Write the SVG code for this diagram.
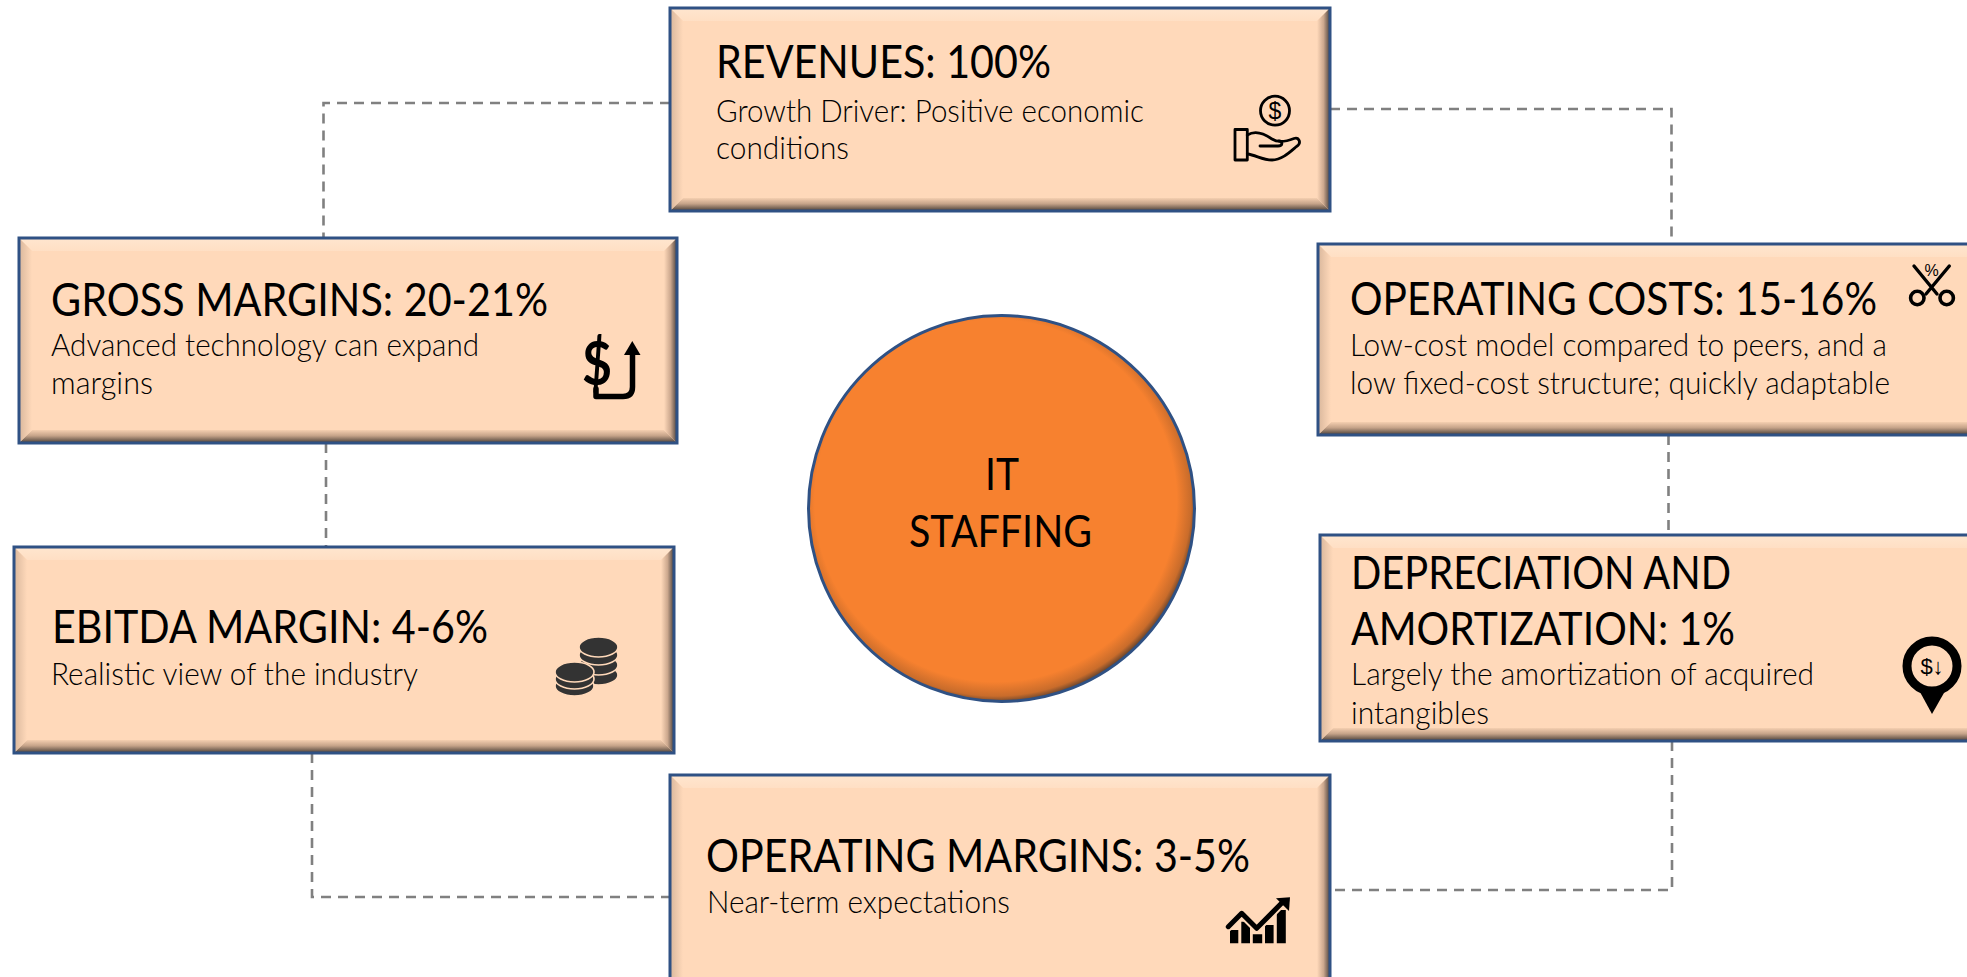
<svg xmlns="http://www.w3.org/2000/svg" width="1967" height="977" viewBox="0 0 1967 977">
<style>
text{font-family:"Lato","Liberation Sans",sans-serif;fill:#000}
.h{font-size:46px;font-weight:400}
.s{font-size:30.500px;font-weight:300}
.c{font-size:45px;font-weight:400}
.conn{fill:none;stroke:#808080;stroke-width:2.600;stroke-dasharray:10 7}
.face{fill:#ffd9ba}
.border{fill:none;stroke:#2f5184;stroke-width:3}
.ic{fill:none;stroke:#000;stroke-linecap:round;stroke-linejoin:round}
.g{font-family:"Liberation Sans",sans-serif;font-weight:400;text-anchor:middle}
</style>
<defs>
<linearGradient id="bt" x1="0" y1="0" x2="0" y2="1"><stop offset="0" stop-color="#ffe6cf"/><stop offset="1" stop-color="#ffdfc4"/></linearGradient>
<linearGradient id="bb" x1="0" y1="0" x2="0" y2="1"><stop offset="0" stop-color="#f5cfb0"/><stop offset=".45" stop-color="#c4a288"/><stop offset="1" stop-color="#473c35"/></linearGradient>
<linearGradient id="bl" x1="0" y1="0" x2="1" y2="0"><stop offset="0" stop-color="#d9b79c"/><stop offset="1" stop-color="#ffd9ba"/></linearGradient>
<linearGradient id="br" x1="0" y1="0" x2="1" y2="0"><stop offset="0" stop-color="#ffd9ba"/><stop offset=".5" stop-color="#cca88e"/><stop offset="1" stop-color="#4a403b"/></linearGradient>
<radialGradient id="ball" cx=".485" cy=".48" r=".527"><stop offset=".89" stop-color="#f7812f"/><stop offset=".96" stop-color="#c96c2b"/><stop offset="1" stop-color="#4f3a2d"/></radialGradient>
</defs>
<rect width="1967" height="977" fill="#fff"/>
<g id="connectors">
<path class="conn" d="M670 103H323.500V238"/>
<path class="conn" d="M326 443V547"/>
<path class="conn" d="M312 753V897H670"/>
<path class="conn" d="M1672 741V890H1330"/>
<path class="conn" d="M1668.500 435V536"/>
<path class="conn" d="M1330 109H1671.500V243"/>
</g>
<g id="revenues">
<rect class="face" x="670" y="8" width="660" height="203"/>
<path fill="url(#bt)" d="M670 8H1330L1317 21H683Z"/><path fill="url(#bb)" d="M670 211H1330L1317 198H683Z"/><path fill="url(#bl)" d="M670 8V211L683 198V21Z"/><path fill="url(#br)" d="M1330 8V211L1317 198V21Z"/>
<rect class="border" x="670" y="8" width="660" height="203"/>
<text class="h" x="716" y="78" textLength="335" lengthAdjust="spacingAndGlyphs">REVENUES: 100%</text>
<text class="s" x="716" y="122" textLength="428" lengthAdjust="spacingAndGlyphs">Growth Driver: Positive economic</text>
<text class="s" x="716" y="159" textLength="133" lengthAdjust="spacingAndGlyphs">conditions</text>
<circle class="ic" cx="1275" cy="110.700" r="14.500" stroke-width="2.800"/>
<text class="g" x="1275" y="119" font-size="23">$</text>
<rect class="ic" x="1235" y="129.500" width="12.300" height="30.500" stroke-width="2.800"/>
<path class="ic" stroke-width="2.800" d="M1247.300 135C1254 131 1262 132 1272 139C1278 143 1285 142 1294 138.500C1299 137 1302 143 1296.500 146.500C1290 152 1282 160 1272 160C1262 160 1256 155 1247.300 154"/>
<path class="ic" stroke-width="2.800" d="M1260 146H1278C1283 146 1283 141 1279 141"/>
</g>
<g id="gross-margins">
<rect class="face" x="19" y="238" width="658" height="205"/>
<path fill="url(#bt)" d="M19 238H677L664 251H32Z"/><path fill="url(#bb)" d="M19 443H677L664 430H32Z"/><path fill="url(#bl)" d="M19 238V443L32 430V251Z"/><path fill="url(#br)" d="M677 238V443L664 430V251Z"/>
<rect class="border" x="19" y="238" width="658" height="205"/>
<text class="h" x="51" y="316" textLength="497" lengthAdjust="spacingAndGlyphs">GROSS MARGINS: 20-21%</text>
<text class="s" x="51" y="356" textLength="428" lengthAdjust="spacingAndGlyphs">Advanced technology can expand</text>
<text class="s" x="51" y="394" textLength="102" lengthAdjust="spacingAndGlyphs">margins</text>
<text x="582" y="385" font-family="Liberation Sans" font-weight="700" font-size="62" textLength="30" lengthAdjust="spacingAndGlyphs">$</text>
<path class="ic" stroke-linecap="butt" stroke-linejoin="miter" stroke-width="5.500" d="M596 389V396.500H623Q632.500 396.500 632.500 387V352"/>
<path d="M624 355H640.500L632.300 341Z"/>
</g>
<g id="ebitda-margin">
<rect class="face" x="14" y="547" width="660" height="206"/>
<path fill="url(#bt)" d="M14 547H674L661 560H27Z"/><path fill="url(#bb)" d="M14 753H674L661 740H27Z"/><path fill="url(#bl)" d="M14 547V753L27 740V560Z"/><path fill="url(#br)" d="M674 547V753L661 740V560Z"/>
<rect class="border" x="14" y="547" width="660" height="206"/>
<text class="h" x="52" y="643" textLength="436" lengthAdjust="spacingAndGlyphs">EBITDA MARGIN: 4-6%</text>
<text class="s" x="51" y="685" textLength="367" lengthAdjust="spacingAndGlyphs">Realistic view of the industry</text>
<g fill="#333" stroke="#ffd9ba" stroke-width="1.600">
<ellipse cx="598.500" cy="675" rx="19.500" ry="10"/><ellipse cx="598.500" cy="665" rx="19.500" ry="10"/><ellipse cx="598.500" cy="655" rx="19.500" ry="10"/><ellipse cx="598.500" cy="647" rx="19.500" ry="10"/>
<ellipse cx="574.500" cy="686" rx="19.500" ry="10"/><ellipse cx="574.500" cy="679" rx="19.500" ry="10"/><ellipse cx="574.500" cy="672" rx="19.500" ry="10"/>
</g>
</g>
<g id="operating-costs">
<rect class="face" x="1318" y="244" width="670" height="191"/>
<path fill="url(#bt)" d="M1318 244H1988V257H1331Z"/><path fill="url(#bb)" d="M1318 435H1988V422H1331Z"/><path fill="url(#bl)" d="M1318 244V435L1331 422V257Z"/>
<rect class="border" x="1318" y="244" width="670" height="191"/>
<text class="h" x="1350" y="315" textLength="527" lengthAdjust="spacingAndGlyphs">OPERATING COSTS: 15-16%</text>
<text class="s" x="1350" y="356" textLength="537" lengthAdjust="spacingAndGlyphs">Low-cost model compared to peers, and a</text>
<text class="s" x="1350" y="394" textLength="540" lengthAdjust="spacingAndGlyphs">low fixed-cost structure; quickly adaptable</text>
<path class="ic" stroke-width="3.400" stroke-linecap="butt" d="M1914 266L1937 294M1949.300 266L1926 294"/>
<circle class="ic" cx="1917.300" cy="298" r="6.700" stroke-width="3.600"/><circle class="ic" cx="1946.700" cy="298" r="6.700" stroke-width="3.600"/>
<text class="g" x="1931.700" y="276" font-size="16">%</text>
</g>
<g id="depreciation-amortization">
<rect class="face" x="1320" y="535" width="670" height="206"/>
<path fill="url(#bt)" d="M1320 535H1990V548H1333Z"/><path fill="url(#bb)" d="M1320 741H1990V728H1333Z"/><path fill="url(#bl)" d="M1320 535V741L1333 728V548Z"/>
<rect class="border" x="1320" y="535" width="670" height="206"/>
<text class="h" x="1351" y="589" textLength="380" lengthAdjust="spacingAndGlyphs">DEPRECIATION AND</text>
<text class="h" x="1351" y="645" textLength="384" lengthAdjust="spacingAndGlyphs">AMORTIZATION: 1%</text>
<text class="s" x="1351" y="685" textLength="463" lengthAdjust="spacingAndGlyphs">Largely the amortization of acquired</text>
<text class="s" x="1351" y="724" textLength="138" lengthAdjust="spacingAndGlyphs">intangibles</text>
<path d="M1920 692H1944.500L1932 714Z"/>
<circle class="ic" cx="1932" cy="666" r="25" stroke-width="9"/>
<text class="g" x="1932" y="674" font-size="22">$↓</text>
</g>
<g id="operating-margins">
<rect class="face" x="670" y="775" width="660" height="220"/>
<path fill="url(#bt)" d="M670 775H1330L1317 788H683Z"/><path fill="url(#bl)" d="M670 775V995L683 982V788Z"/><path fill="url(#br)" d="M1330 775V995L1317 982V788Z"/>
<rect class="border" x="670" y="775" width="660" height="220"/>
<text class="h" x="706" y="872" textLength="544" lengthAdjust="spacingAndGlyphs">OPERATING MARGINS: 3-5%</text>
<text class="s" x="707" y="913" textLength="303" lengthAdjust="spacingAndGlyphs">Near-term expectations</text>
<path d="M1230 930h8.300v13.300h-8.300zM1241.300 921.700h8.700v21.600h-8.700zM1252.800 934.300h9.400v9h-9.400zM1265 925h8.600v18.300h-8.600zM1276.800 910h9v33.300h-9z"/>
<path class="ic" style="stroke:#ffd9ba" stroke-width="9" d="M1228.300 926.700L1241.700 913.300L1256.700 928.300L1283 901.700"/>
<path class="ic" stroke-width="5" d="M1228.300 926.700L1241.700 913.300L1256.700 928.300L1283 901.700"/>
<path d="M1276 898.300L1290 897.300L1289 911Z"/>
</g>
<g id="it-staffing">
<circle cx="1001.500" cy="508.500" r="193" fill="url(#ball)" stroke="#2f5184" stroke-width="3"/>
<text class="c" x="985" y="490" textLength="34" lengthAdjust="spacingAndGlyphs">IT</text>
<text class="c" x="909" y="547" textLength="183" lengthAdjust="spacingAndGlyphs">STAFFING</text>
</g>
</svg>
